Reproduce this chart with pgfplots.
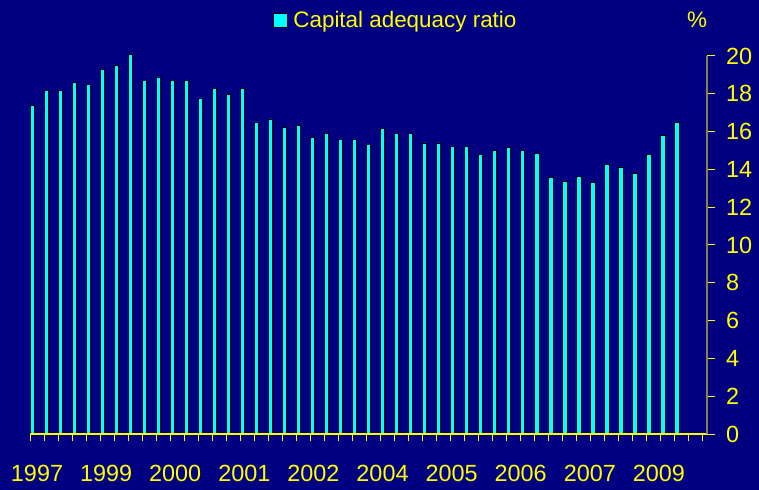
\documentclass[border=0pt]{standalone}
\usepackage{fontspec}
\setmainfont{Liberation Sans}
\usepackage{pgfplots}
\pgfplotsset{compat=1.18}
\usepackage{xcolor}
\definecolor{bg}{RGB}{0,0,128}
\definecolor{cy}{RGB}{0,255,255}
\definecolor{yl}{RGB}{255,255,0}
\definecolor{ol}{RGB}{136,128,80}

\begin{document}
\begin{tikzpicture}[font=\fontsize{22.5}{27}\selectfont]
    \path[use as bounding box, fill=bg] (0,0) rectangle (759bp,490bp);
    \begin{axis}[
        at={(30bp,56bp)}, anchor=south west,
        scale only axis,
        width=677bp, height=378bp,
        xmin=0, xmax=48.3,
        ymin=0, ymax=20,
        clip=false,
        axis on top,
        axis x line=bottom,
        axis y line=right,
        axis line style={-},
        x axis line style={draw=yl, line width=1.2bp},
        y axis line style={draw=ol, line width=1.5bp},
        tick align=outside,
        xtick={0.5,5.43,10.36,15.29,20.22,25.15,30.08,35.01,39.94,44.87},
        xticklabels={1997,1999,2000,2001,2002,2004,2005,2006,2007,2009},
        major x tick style={draw=none},
        minor xtick={0,...,48},
        minor x tick style={draw=yl, line width=1bp},
        minor tick length=7bp,
        extra x ticks={0,4,...,48},
        extra x tick labels={},
        extra x tick style={tick align=center, major tick length=17bp,
            tick style={draw=ol, line width=1.2bp}},
        ytick={0,2,...,20},
        y tick style={draw=yl, line width=1bp},
        major tick length=8bp,
        ticklabel style={text=yl, font=\fontsize{23.5}{28}\selectfont},
        xticklabel style={yshift=-20bp},
        yticklabel style={anchor=west, inner xsep=0pt, xshift=11bp},
        /pgf/number format/assume math mode=true,
        legend style={at={(0.354,1.095)}, anchor=west, draw=none, fill=none,
            text=yl},
        legend image code/.code={
            \draw[fill=cy, draw=black, line width=0.5bp] (0bp,-7bp) rectangle (14bp,7bp);
            \path (18bp,0bp);
        },
    ]
        \addplot[ybar, fill=cy, draw=black, line width=0.6bp,
            bar width=0.3, bar shift=0.15] coordinates {
            (0,17.37) (1,18.18) (2,18.18) (3,18.59) (4,18.48) (5,19.27)
            (6,19.49) (7,20.09) (8,18.69) (9,18.89) (10,18.69) (11,18.69)
            (12,17.78) (13,18.29) (14,17.95) (15,18.29) (16,16.51) (17,16.67)
            (18,16.23) (19,16.31) (20,15.71) (21,15.89) (22,15.61) (23,15.61)
            (24,15.33) (25,16.19) (26,15.91) (27,15.91) (28,15.40) (29,15.40)
            (30,15.22) (31,15.22) (32,14.78) (33,14.99) (34,15.15) (35,14.99)
            (36,14.83) (37,13.58) (38,13.39) (39,13.63) (40,13.33) (41,14.29)
            (42,14.13) (43,13.77) (44,14.80) (45,15.78) (46,16.49)
        };
        \legend{Capital adequacy ratio}
    \end{axis}
    \node[text=yl] at (697bp,470bp) {\%};
\end{tikzpicture}
\end{document}
